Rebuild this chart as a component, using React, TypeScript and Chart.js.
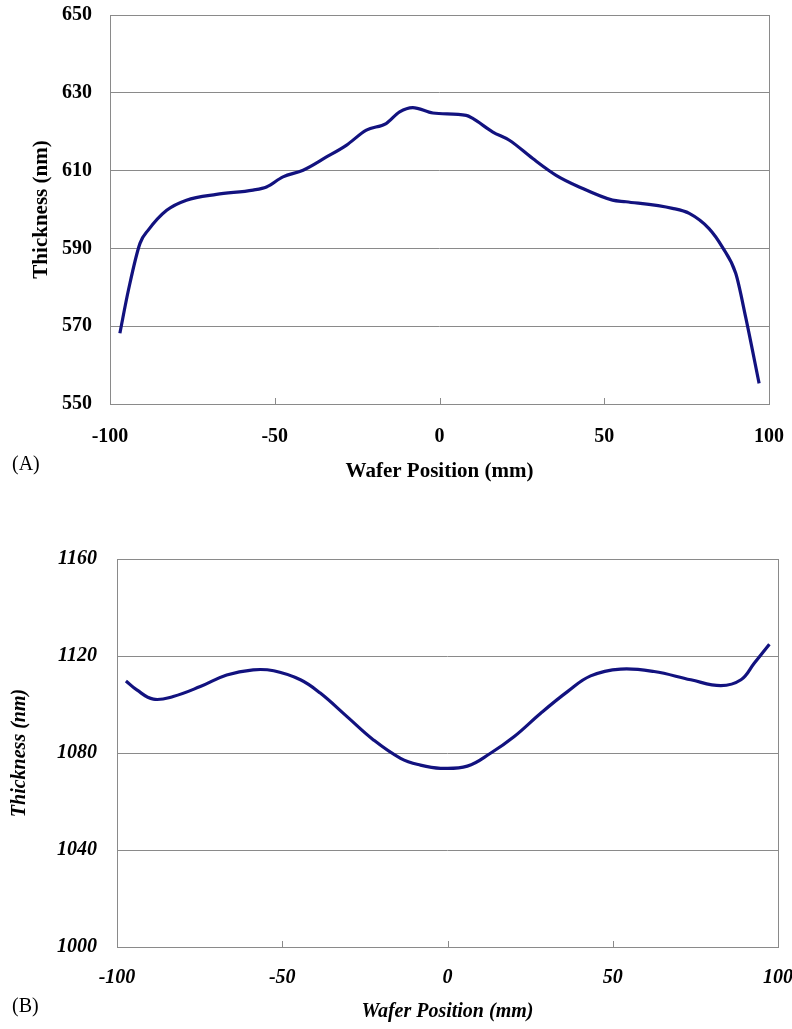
import React, { useEffect, useRef } from "react";
import { Chart, registerables } from "chart.js";

Chart.register(...registerables);

// ---- Data: panel (A) ----
const positionsA = [
  -97, -94.4, -90.9, -88.4, -82.8, -76.8, -67.7, -56.6, -52.5, -47.5, -41.4, -34.3,
  -28.3, -22.2, -16.2, -12.1, -8.1, -2.0, 8.1, 10.1, 16.2, 21.2, 28.3, 35.4, 42.4,
  52.5, 56.6, 70.7, 75.8, 81.8, 85.8, 89.9, 92.9, 97,
];
const thicknessA = [
  568.2, 579.3, 591.3, 594.7, 599.8, 602.4, 603.9, 605.0, 605.8, 608.4, 610.1, 613.5,
  616.5, 620.4, 622.1, 625.1, 626.2, 624.8, 624.2, 623.4, 619.9, 617.8, 613.1, 608.8, 605.8,
  602.4, 602.0, 600.3, 599.0, 595.1, 590.4, 583.6, 572.4, 555.3,
];

// ---- Data: panel (B) ----
const positionsB = [
  -97.3, -94.0, -89.0, -83.0, -74.8, -66.8, -58.8, -52.6, -44.5, -38.5, -30.4, -22.4,
  -14.2, -8.2, -2.1, 6.0, 13.0, 20.1, 28.2, 36.3, 43.3, 52.4, 62.5, 73.6, 82.7, 88.8,
  92.8, 97.4,
];
const thicknessB = [
  1109.7, 1106.0, 1102.2, 1103.3, 1107.4, 1112.2, 1114.3, 1113.9, 1110.2, 1104.7, 1095.0,
  1085.4, 1077.8, 1075.0, 1073.7, 1074.6, 1079.9, 1086.7, 1096.4, 1105.3, 1111.8, 1114.6,
  1113.6, 1110.2, 1107.8, 1110.2, 1117.0, 1124.8,
];

// ---- Axis ranges / tick labels ----
const xTickValues = [-100, -50, 0, 50, 100];
const yTicksA = [550, 570, 590, 610, 630, 650];
const yTicksB = [1000, 1040, 1080, 1120, 1160];

const xTitle = "Wafer Position (mm)";
const yTitle = "Thickness (nm)";

const LINE_COLOR = "#12127f";
const GRID_COLOR = "#8a8a8a";
const FONT = "'Liberation Serif', 'Times New Roman', serif";

const framePlugin = {
  id: "frameAndInnerTicks",
  afterDraw(chart: any) {
    const { ctx, chartArea } = chart;
    const xs = chart.scales.x;
    ctx.save();
    ctx.strokeStyle = GRID_COLOR;
    ctx.lineWidth = 1;
    ctx.strokeRect(
      Math.round(chartArea.left) + 0.5,
      Math.round(chartArea.top) + 0.5,
      Math.round(chartArea.right - chartArea.left),
      Math.round(chartArea.bottom - chartArea.top)
    );
    xs.ticks.forEach((t: any) => {
      if (t.value === xs.min || t.value === xs.max) return;
      const px = Math.round(xs.getPixelForValue(t.value)) + 0.5;
      ctx.beginPath();
      ctx.moveTo(px, chartArea.bottom);
      ctx.lineTo(px, chartArea.bottom - 6);
      ctx.stroke();
    });
    ctx.restore();
  },
};

type PanelProps = {
  xs: number[];
  ys: number[];
  yTicks: number[];
  italic: boolean;
  smooth: boolean;
  top: number;
  height: number;
  pad: { top: number; right: number; bottom: number };
  yWidth: number;
  xHeight: number;
  xTickPad: number;
  yTickPad: number;
  yTitlePad: number;
  xTitlePad: number;
  tickSize: number;
  titleSize: number;
};

function Panel(p: PanelProps) {
  const ref = useRef<HTMLCanvasElement | null>(null);
  useEffect(() => {
    if (!ref.current) return;
    const style = p.italic ? "italic" : "normal";
    const tickFont = { family: FONT, size: p.tickSize, weight: "bold" as const, style };
    const titleFont = { family: FONT, size: p.titleSize, weight: "bold" as const, style };
    const yMin = p.yTicks[0];
    const yMax = p.yTicks[p.yTicks.length - 1];
    const chart = new Chart(ref.current, {
      type: "line",
      data: {
        datasets: [
          {
            data: p.xs.map((x, i) => ({ x, y: p.ys[i] })),
            borderColor: LINE_COLOR,
            borderWidth: 3.2,
            pointRadius: 0,
            fill: false,
            tension: 0.4,
            cubicInterpolationMode: p.smooth ? "default" : "monotone",
          },
        ],
      },
      options: {
        responsive: false,
        animation: false,
        layout: { padding: { top: p.pad.top, right: p.pad.right, bottom: p.pad.bottom, left: 0 } },
        plugins: { legend: { display: false }, tooltip: { enabled: false } },
        scales: {
          x: {
            type: "linear",
            min: xTickValues[0],
            max: xTickValues[xTickValues.length - 1],
            afterBuildTicks: (s: any) => {
              s.ticks = xTickValues.map((v) => ({ value: v }));
            },
            ticks: {
              padding: p.xTickPad,
              font: tickFont,
              color: "#000",
              maxRotation: 0,
              autoSkip: false,
              callback: (v: any) => String(v),
            },
            grid: { display: false, drawTicks: false },
            border: { display: false },
            title: {
              display: true,
              text: xTitle,
              font: titleFont,
              color: "#000",
              padding: { top: 0, bottom: p.xTitlePad },
            },
            afterFit: (s: any) => {
              s.height = p.xHeight;
              s.paddingLeft = 0;
              s.paddingRight = 0;
            },
          },
          y: {
            type: "linear",
            min: yMin,
            max: yMax,
            afterBuildTicks: (s: any) => {
              s.ticks = p.yTicks.map((v) => ({ value: v }));
            },
            ticks: {
              padding: p.yTickPad,
              font: tickFont,
              color: "#000",
              callback: (v: any) => String(v),
            },
            grid: { color: GRID_COLOR, lineWidth: 1, drawTicks: false },
            border: { display: false },
            title: {
              display: true,
              text: yTitle,
              font: titleFont,
              color: "#000",
              padding: { top: p.yTitlePad, bottom: 0 },
            },
            afterFit: (s: any) => {
              s.width = p.yWidth;
              s.paddingTop = 0;
              s.paddingBottom = 0;
            },
          },
        },
      },
      plugins: [framePlugin],
    } as any);
    return () => chart.destroy();
  }, []);
  return (
    <canvas
      ref={ref}
      width={792}
      height={p.height}
      style={{ position: "absolute", left: 0, top: p.top, width: 792, height: p.height, display: "block" }}
    />
  );
}

export default function App() {
  const labelStyle: React.CSSProperties = {
    position: "absolute",
    left: 12,
    fontFamily: FONT,
    fontSize: 20,
    lineHeight: "20px",
    color: "#000",
  };
  return (
    <div style={{ position: "absolute", left: 0, top: 0, width: 792, height: 1029, background: "#fff" }}>
      <Panel
        xs={positionsA}
        ys={thicknessA}
        yTicks={yTicksA}
        italic={false}
        smooth={false}
        top={0}
        height={500}
        pad={{ top: 15, right: 23, bottom: 14 }}
        yWidth={110}
        xHeight={82}
        xTickPad={21}
        yTickPad={18}
        yTitlePad={29}
        xTitlePad={2}
        tickSize={20}
        titleSize={21}
      />
      <div style={{ ...labelStyle, top: 453 }}>(A)</div>
      <Panel
        xs={positionsB}
        ys={thicknessB}
        yTicks={yTicksB}
        italic={true}
        smooth={true}
        top={520}
        height={509}
        pad={{ top: 39, right: 14, bottom: 2 }}
        yWidth={117}
        xHeight={80}
        xTickPad={19}
        yTickPad={20}
        yTitlePad={8}
        xTitlePad={3}
        tickSize={20}
        titleSize={20}
      />
      <div style={{ ...labelStyle, top: 995 }}>(B)</div>
    </div>
  );
}
